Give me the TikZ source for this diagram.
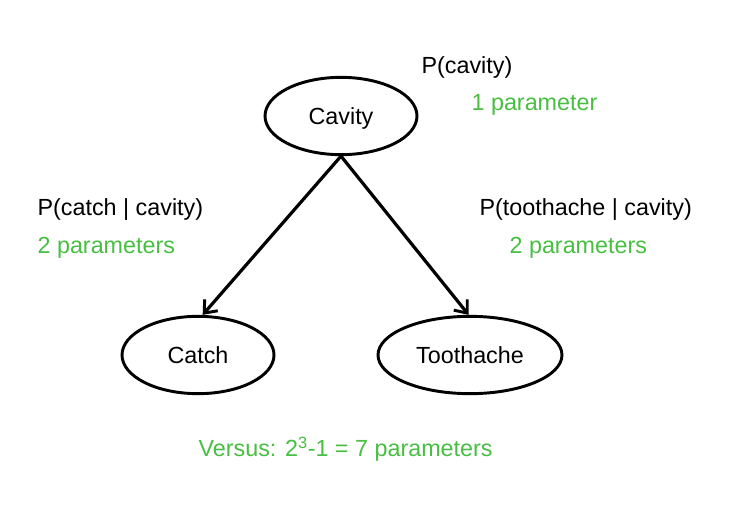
\documentclass[tikz,border=0pt]{standalone}
\usepackage{fontspec}
\setmainfont{Liberation Sans}
\usetikzlibrary{arrows.meta, positioning, shapes.geometric}
\definecolor{paramgreen}{RGB}{72,190,66}

\begin{document}
\begin{tikzpicture} [%
    x = 0.75pt,
    y = -0.75pt,
    ->,
    >= { Straight Barb[length=8pt, width=13pt, line width=2.2pt] },
    line width = 2.4pt,
    font = \fontsize{17.5}{20}\selectfont,
    var/.style = {%
      ellipse,
      draw,
      line width = 2.2pt,
      inner sep = 0pt,
      text height = 16pt,
      text depth = 3.5pt,
      minimum width = 114pt,
      minimum height = 58pt },
    prob/.style = {%
      anchor = west,
      inner sep = 0pt,
      text = black },
    count/.style = {%
      prob,
      text = paramgreen }
  ]

  \useasboundingbox (0,0) rectangle (746,514);

  \node[var] (C) at (341,116) {Cavity};
  \node[var] (K) at (198,355) {Catch};
  \node[var, minimum width = 138pt] (T) at (470,355) {Toothache};

  \node[prob] (PC) at (420,67) {P(cavity)};
  \node[count] (NC) at (470,105) {1 parameter};
  \node[prob] (PK) at (36,210) {P(catch | cavity)};
  \node[count] (NK) at (36,248) {2 parameters};
  \node[prob] (PT) at (478,210) {P(toothache | cavity)};
  \node[count] (NT) at (508,248) {2 parameters};
  \node[count] (V) at (197,449) {Versus: 2\textsuperscript{3}-1 = 7 parameters};

  \path
  (C.south) edge ([xshift=3.5pt]K.north)
  (C.south) edge ([xshift=-1pt]T.north);

\end{tikzpicture}
\end{document}
